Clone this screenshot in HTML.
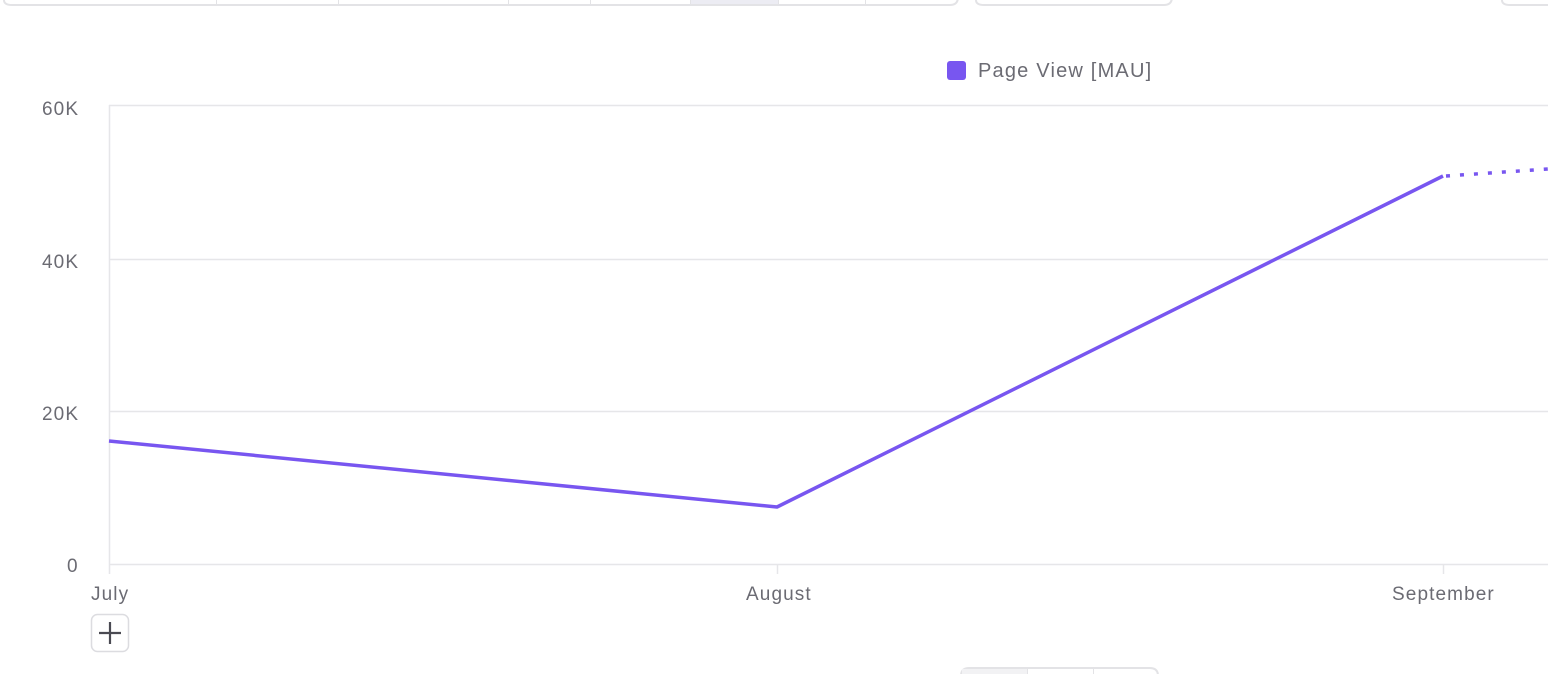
<!DOCTYPE html>
<html><head><style>
body{margin:0;width:1548px;height:674px;background:#fff;overflow:hidden;position:relative;font-family:"Liberation Sans",sans-serif;}
.t{position:absolute;color:#6b6b73;font-size:19px;letter-spacing:1.1px;}
</style></head><body>
<svg width="1548" height="674" style="position:absolute;left:0;top:0">
<g fill="none" stroke="#e3e3e6" stroke-width="2">
<path d="M4,-10 V0 Q4,5 12,5 H950 Q958,5 958,-3 V-10"/>
<path d="M976,-10 V0 Q976,5 984,5 H1164 Q1172,5 1172,-3 V-10"/>
<path d="M1502,-10 V0 Q1502,5 1510,5 H1560"/>
<path d="M961,684 V676 Q961,668 969,668 H1150 Q1158,668 1158,676 V684"/>
</g>
<rect x="690" y="0" width="88" height="4" fill="#ececf3"/>
<rect x="962" y="669" width="65" height="10" fill="#f2f2f4"/>
<g stroke="#e3e3e6" stroke-width="1">
<line x1="216.5" y1="0" x2="216.5" y2="5"/><line x1="338.5" y1="0" x2="338.5" y2="5"/>
<line x1="508.5" y1="0" x2="508.5" y2="5"/><line x1="590.5" y1="0" x2="590.5" y2="5"/>
<line x1="690.5" y1="0" x2="690.5" y2="5"/><line x1="778.5" y1="0" x2="778.5" y2="5"/>
<line x1="865.5" y1="0" x2="865.5" y2="5"/>
<line x1="1027.5" y1="669" x2="1027.5" y2="674"/><line x1="1093.5" y1="669" x2="1093.5" y2="674"/>
</g>
<g stroke="#e6e6e9" stroke-width="1.5">
<line x1="109" y1="105.5" x2="1548" y2="105.5"/>
<line x1="109" y1="259.5" x2="1548" y2="259.5"/>
<line x1="109" y1="411.5" x2="1548" y2="411.5"/>
<line x1="109" y1="564.5" x2="1548" y2="564.5"/>
<line x1="109.5" y1="105" x2="109.5" y2="574"/>
<line x1="777.5" y1="564" x2="777.5" y2="574"/>
<line x1="1443.5" y1="564" x2="1443.5" y2="574"/>
</g>
<polyline points="109,441 777,507 1443,176" fill="none" stroke="#7856f0" stroke-width="3.5" stroke-linejoin="round"/>
<line x1="1446" y1="176" x2="1548" y2="169" stroke="#7856f0" stroke-width="3.5" stroke-dasharray="4,10"/>
<rect x="947" y="61" width="19" height="19" rx="3" fill="#7856f0"/>
<rect x="91.5" y="614.5" width="37" height="37" rx="6" fill="#fff" stroke="#dcdce0" stroke-width="1.5"/>
<path d="M110,622 V644 M99,633 H121" stroke="#4a4a52" stroke-width="2.2"/>
</svg>
<div class="t" style="left:978px;top:60px;font-size:20px;letter-spacing:1.2px">Page View [MAU]</div>
<div class="t" style="left:42px;top:99px">60K</div>
<div class="t" style="left:42px;top:252px">40K</div>
<div class="t" style="left:42px;top:404px">20K</div>
<div class="t" style="left:67px;top:556px">0</div>
<div class="t" style="left:91px;top:584px">July</div>
<div class="t" style="left:746px;top:584px">August</div>
<div class="t" style="left:1392px;top:584px">September</div>
</body></html>
